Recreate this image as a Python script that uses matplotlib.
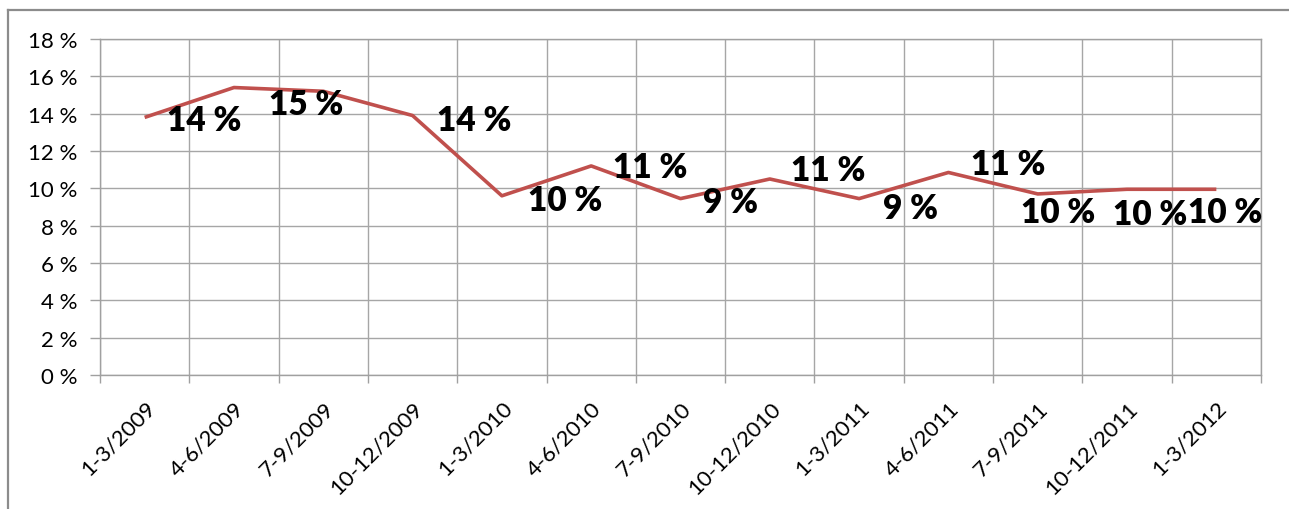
import numpy as np
import matplotlib.pyplot as plt
from matplotlib.lines import Line2D

kvartaler = ["1-3/2009", "4-6/2009", "7-9/2009", "10-12/2009", "1-3/2010", "4-6/2010",
             "7-9/2010", "10-12/2010", "1-3/2011", "4-6/2011", "7-9/2011", "10-12/2011",
             "1-3/2012"]
verdier = [13.8, 15.4, 15.2, 13.9, 9.6, 11.2, 9.45, 10.5, 9.45, 10.85, 9.7, 9.95, 9.95]
etiketter = ["14 %", "15 %", "", "14 %", "10 %", "11 %", "9 %", "11 %", "9 %", "11 %",
             "10 %", "10 %", "10 %"]

# label offsets in pixels (dx, dy downwards)
offs = [(60, 3), (72, 16), (0, 0), (62, 4), (63, 4), (59, 1), (50, 3), (58, -9),
        (51, 9), (60, -8), (20, 18), (23, 25), (9, 23)]

plt.rcParams['font.family'] = ['Lato', 'DejaVu Sans']

fig = plt.figure(figsize=(12.89, 5.10), dpi=100)
ax = fig.add_axes([100/1289, 1-376/510, 1161/1289, 336/510])

x = np.arange(len(kvartaler))
ax.plot(x, verdier, color="#C0504D", lw=2.6, solid_capstyle="butt", zorder=3)

for i, (t, (dx, dy)) in enumerate(zip(etiketter, offs)):
    if t:
        ax.annotate(t, (x[i], verdier[i]), xytext=(dx*0.72, -dy*0.72),
                    textcoords="offset points", ha="center", va="center",
                    fontsize=24, fontweight="heavy", color="black", zorder=4)

ax.set_xlim(-0.5, len(kvartaler) - 0.5)
ax.set_ylim(0, 18)
ax.set_yticks(np.arange(0, 19, 2))
ax.set_yticklabels([f"{v} %" for v in range(0, 19, 2)], fontsize=16)
ax.set_xticks(x)
ax.set_xticklabels(kvartaler, rotation=45, ha="right", rotation_mode="anchor", fontsize=16)
ax.set_xticks(np.arange(-0.5, len(kvartaler)), minor=True)
ax.tick_params(axis="x", which="major", length=0, pad=16)
ax.tick_params(axis="x", which="minor", length=6, color="#a0a0a0", width=1)
ax.tick_params(axis="y", length=7, color="#a0a0a0", width=1, pad=9)
ax.grid(True, which="minor", axis="x", color="#a6a6a6", lw=1)
ax.grid(True, which="major", axis="y", color="#a6a6a6", lw=1)
for s in ax.spines.values():
    s.set_color("#a0a0a0")
    s.set_linewidth(1)

# outer chart frame
fig.add_artist(Line2D([8/1289, 1], [1-11/510, 1-11/510], color="#8c8c8c", lw=1.6))
fig.add_artist(Line2D([8/1289, 8/1289], [0, 1-11/510], color="#8c8c8c", lw=1.6))

fig.savefig("out.png", dpi=100)
